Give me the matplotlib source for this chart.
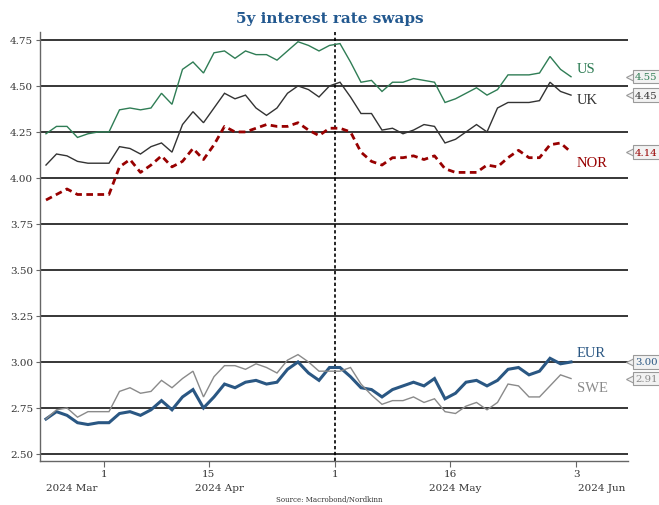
import numpy as np
import matplotlib
matplotlib.use("Agg")
import matplotlib.pyplot as plt
import matplotlib.transforms as mtransforms

# --- data: 5y swap rates, business days 22 Mar - 31 May 2024 ---
start_date = "2024-03-22"
end_date = "2024-05-31"

us = [4.24, 4.28, 4.28, 4.22, 4.24, 4.25, 4.25, 4.37, 4.38, 4.37,
      4.38, 4.46, 4.40, 4.59, 4.63, 4.57, 4.68, 4.69, 4.65, 4.69,
      4.67, 4.67, 4.64, 4.69, 4.74, 4.72, 4.69, 4.72, 4.73, 4.63,
      4.52, 4.53, 4.47, 4.52, 4.52, 4.54, 4.53, 4.52, 4.41, 4.43,
      4.46, 4.49, 4.45, 4.48, 4.56, 4.56, 4.56, 4.57, 4.66, 4.59,
      4.55]
uk = [4.07, 4.13, 4.12, 4.09, 4.08, 4.08, 4.08, 4.17, 4.16, 4.13,
      4.17, 4.19, 4.14, 4.29, 4.36, 4.30, 4.38, 4.46, 4.43, 4.45,
      4.38, 4.34, 4.38, 4.46, 4.50, 4.48, 4.44, 4.50, 4.52, 4.44,
      4.35, 4.35, 4.26, 4.27, 4.24, 4.26, 4.29, 4.28, 4.19, 4.21,
      4.25, 4.29, 4.25, 4.38, 4.41, 4.41, 4.41, 4.42, 4.52, 4.47,
      4.45]
nor = [3.88, 3.91, 3.94, 3.91, 3.91, 3.91, 3.91, 4.06, 4.10, 4.03,
       4.07, 4.12, 4.06, 4.09, 4.16, 4.10, 4.18, 4.28, 4.25, 4.25,
       4.27, 4.29, 4.28, 4.28, 4.30, 4.26, 4.23, 4.27, 4.27, 4.25,
       4.14, 4.09, 4.07, 4.11, 4.11, 4.12, 4.10, 4.12, 4.05, 4.03,
       4.03, 4.03, 4.07, 4.06, 4.11, 4.15, 4.11, 4.11, 4.18, 4.19,
       4.14]
eur = [2.69, 2.73, 2.71, 2.67, 2.66, 2.67, 2.67, 2.72, 2.73, 2.71,
       2.74, 2.79, 2.74, 2.81, 2.85, 2.75, 2.81, 2.88, 2.86, 2.89,
       2.90, 2.88, 2.89, 2.96, 3.00, 2.94, 2.90, 2.97, 2.97, 2.92,
       2.86, 2.85, 2.81, 2.85, 2.87, 2.89, 2.87, 2.91, 2.80, 2.83,
       2.89, 2.90, 2.87, 2.90, 2.96, 2.97, 2.93, 2.95, 3.02, 2.99,
       3.00]
swe = [2.69, 2.74, 2.75, 2.70, 2.73, 2.73, 2.73, 2.84, 2.86, 2.83,
       2.84, 2.90, 2.86, 2.91, 2.95, 2.81, 2.92, 2.98, 2.98, 2.96,
       2.99, 2.97, 2.94, 3.01, 3.04, 3.00, 2.95, 2.95, 2.95, 2.97,
       2.88, 2.82, 2.77, 2.79, 2.79, 2.81, 2.78, 2.80, 2.73, 2.72,
       2.76, 2.78, 2.74, 2.78, 2.88, 2.87, 2.81, 2.81, 2.87, 2.93,
       2.91]

tick_dates = ["2024-04-01", "2024-04-15", "2024-05-01", "2024-05-16", "2024-06-03"]
tick_labels = ["1", "15", "1", "16", "3"]
month_labels = ["2024 Mar", "2024 Apr", "2024 May", "2024 Jun"]
marker_date = "2024-05-01"

series = [
    ("US", us, "#2f7d55", 1.0, "-"),
    ("UK", uk, "#333333", 1.0, "-"),
    ("NOR", nor, "#980000", 2.0, (0, (2.4, 1.6))),
    ("EUR", eur, "#2a5783", 2.2, "-"),
    ("SWE", swe, "#8a8a8a", 1.0, "-"),
]
label_offsets = {"US": 0.045, "UK": -0.025, "NOR": -0.055, "EUR": 0.05, "SWE": -0.05}

plt.rcParams["font.family"] = "DejaVu Serif"

fig = plt.figure(figsize=(6.59, 5.06), dpi=100)
ax = fig.add_axes([0.0607, 0.0870, 0.8923, 0.8478])

x = np.arange(len(us))
# positions on the business-day axis: tick sits at the start of its day
tick_pos = np.busday_count(start_date, tick_dates) - 0.5
vline_pos = np.busday_count(start_date, marker_date) - 0.5

xmin, xmax = -0.57, 55.43
ax.set_xlim(xmin, xmax)
ax.set_ylim(2.462, 4.793)

yticks = np.arange(2.5, 4.76, 0.25)
for yv in yticks:
    ax.axhline(yv, color="black", lw=1.1, zorder=1)
ax.axvline(vline_pos, color="black", lw=1.2, ls=(0, (2, 1.5)), zorder=2)

for name, vals, col, lw, ls in series:
    ax.plot(x, vals, color=col, lw=lw, ls=ls, zorder=3, solid_joinstyle="miter")

# series names at the line ends
for name, vals, col, lw, ls in series:
    ax.text(x[-1] + 0.55, vals[-1] + label_offsets[name], name, color=col,
            fontsize=10.5, family="Liberation Serif", va="center", ha="left")

# value tags on the right edge
trans = mtransforms.blended_transform_factory(ax.transAxes, ax.transData)
for name, vals, col, lw, ls in series:
    ax.plot([1.004], [vals[-1]], marker="<", ms=6, mfc="#f2f2f2", mec="#9a9a9a",
            mew=0.8, transform=trans, clip_on=False, zorder=4)
    ax.text(1.012, vals[-1], f"{vals[-1]:.2f}", color=col, fontsize=7.3,
            va="center", ha="left", transform=trans, clip_on=False, zorder=5,
            bbox=dict(boxstyle="square,pad=0.22", fc="#f2f2f2", ec="#9a9a9a", lw=0.8))

ax.set_yticks(yticks)
ax.set_yticklabels([f"{v:.2f}" for v in yticks], fontsize=7.5, color="#333333")
ax.set_xticks(tick_pos)
ax.set_xticklabels(tick_labels, fontsize=7.5, color="#333333")
ax.tick_params(axis="y", length=3, width=0.8, color="#666666", pad=2)
ax.tick_params(axis="x", length=4, width=0.8, color="#666666", pad=2)

# month names centred under each month span
bounds = [xmin] + list(tick_pos[[0, 2, 4]]) + [xmax]
month_trans = mtransforms.blended_transform_factory(ax.transData, ax.transAxes)
for i, lab in enumerate(month_labels):
    ax.text((bounds[i] + bounds[i + 1]) / 2, -0.062, lab, transform=month_trans,
            ha="center", va="center", fontsize=7.5, color="#333333")

for side in ["top", "right"]:
    ax.spines[side].set_visible(False)
for side in ["left", "bottom"]:
    ax.spines[side].set_color("#666666")
    ax.spines[side].set_linewidth(1.0)

fig.text(0.5, 0.963, "5y interest rate swaps", ha="center", va="center",
         fontsize=11, fontweight="bold", color="#22588f")
fig.text(0.5, 0.004, "Source: Macrobond/Nordkinn", ha="center", va="bottom",
         fontsize=5, color="#333333")

fig.savefig("out.png", dpi=100)
